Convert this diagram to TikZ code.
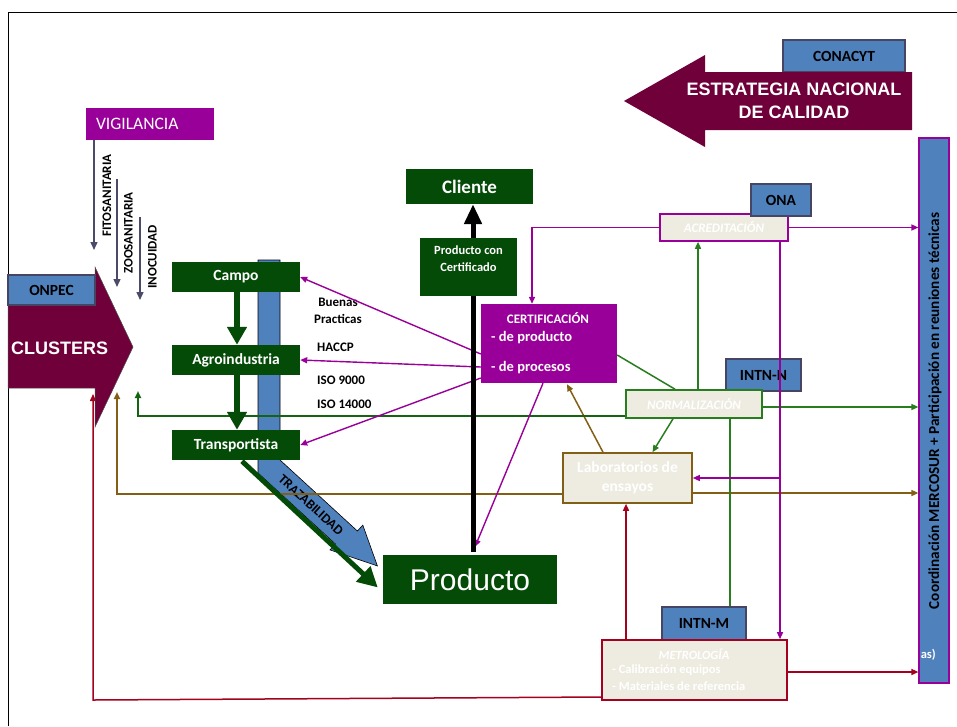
\documentclass[tikz,border=0pt]{standalone}
\usepackage{fontspec}
\setmainfont{Carlito}
\newfontfamily\arialf{Liberation Sans}
\usetikzlibrary{arrows.meta,calc}
\definecolor{dgreen}{RGB}{5,75,8}
\definecolor{lgreen}{RGB}{40,125,30}
\definecolor{hgreen}{RGB}{20,100,20}
\definecolor{purp}{RGB}{153,0,153}
\definecolor{maroonc}{RGB}{112,0,58}
\definecolor{sblue}{RGB}{79,129,189}
\definecolor{beige}{RGB}{238,236,225}
\definecolor{brownc}{RGB}{130,95,20}
\definecolor{dred}{RGB}{165,0,30}
\definecolor{slate}{RGB}{75,75,105}
\definecolor{bborder}{RGB}{70,70,100}
\newcommand\fsz[2]{\fontsize{#1}{#2}\selectfont}
\tikzset{
 gbox/.style={fill=dgreen, text=white, inner sep=0pt},
 bbox/.style={fill=sblue, draw=bborder, line width=1.3pt, inner sep=0pt, font=\bfseries\fsz{15.5}{18}},
 ebox/.style={fill=beige, line width=1.6pt, inner sep=0pt, text=white},
 tip/.style={-{Triangle[length=7pt,width=6pt]}},
 plink/.style={draw=purp, line width=1.4pt},
 glink/.style={draw=lgreen, line width=1.5pt},
 blink/.style={draw=brownc, line width=1.5pt},
 rlink/.style={draw=dred, line width=1.5pt},
 slink/.style={draw=slate, line width=1.4pt, -{Triangle[length=8pt,width=7pt]}},
 fat/.style={draw=dgreen, line width=5.5pt, -{Triangle[length=18pt,width=19pt]}},
 lbl/.style={font=\bfseries\fsz{13}{16.5}, inner sep=0pt},
 wtxt/.style={text=white, inner sep=0pt},
}
\begin{document}
\begin{tikzpicture}[x=1pt,y=-1pt]
\useasboundingbox (0,0) rectangle (957,726);
\fill[white] (0,0) rectangle (957,726);
% frame
\draw[line width=0.8pt] (8,726) -- (8,12) -- (957,12);

% CONACYT and strategy arrow
\node[bbox, minimum width=122, minimum height=32] (conacyt) at (844,56) {CONACYT};
\fill[maroonc] (912,72) -- (705,72) -- (705,55) -- (624,101) -- (705,147) -- (705,130) -- (912,130) -- cycle;
\node[wtxt, font=\arialf\bfseries\fsz{18}{23}, align=center] (estt) at (794,101) {ESTRATEGIA NACIONAL\\DE CALIDAD};

% Vigilancia
\node[fill=purp, text=white, minimum height=32, inner xsep=10pt, inner ysep=0pt, text width=108, align=left, font=\fsz{17.5}{20}] (vig) at (150,124) {VIGILANCIA};
\coordinate (f1) at (94,250);
\coordinate (z0) at (117,179);
\coordinate (z1) at (117,287);
\coordinate (i0) at (140,217);
\coordinate (i1) at (140,300);
\draw[slink] (vig.south -| f1) -- (f1);
\draw[slink] (z0) -- (z1);
\draw[slink] (i0) -- (i1);
\node[lbl, rotate=90] (fito) at (107,195.5) {FITOSANITARIA};
\node[lbl, rotate=90] (zoo) at (128.5,233) {ZOOSANITARIA};
\node[lbl, rotate=90] (inoc) at (152.5,257) {INOCUIDAD};

% blue bar + trazabilidad arrow
\fill[sblue, draw=black, line width=0.6pt] (258,260) -- (280,260) -- (280,460) -- (357.4,531) -- (362.8,525.1) -- (377.4,565.9) -- (330,549.9) -- (335.4,544) -- (258,473) -- cycle;
\node[font=\bfseries\fsz{13.5}{15}, inner sep=0pt, rotate=-42.5] (traz) at (311,505) {TRAZABILIDAD};

% right bar
\node[fill=sblue, draw=purp, line width=1.2pt, minimum width=30, minimum height=545, inner sep=0pt] (bar) at (934,410.5) {};
\node[font=\bfseries\fsz{15.2}{17}, inner sep=0pt, rotate=90] (bart) at (935,411) {Coordinación MERCOSUR + Participación en reuniones técnicas};
\node[wtxt, font=\bfseries\fsz{12.5}{14}, anchor=east] (asx) at (936,655) {as)};

% main boxes
\node[gbox, minimum width=128, minimum height=30, font=\bfseries\fsz{15.5}{18}] (campo) at (236,277) {Campo};
\node[gbox, minimum width=128, minimum height=30, font=\bfseries\fsz{15.5}{18}] (agro) at (236,360) {Agroindustria};
\node[gbox, minimum width=128, minimum height=30, font=\bfseries\fsz{15.5}{18}] (trans) at (236,445) {Transportista};
\node[gbox, minimum width=174, minimum height=49, font=\arialf\fsz{30}{34}] (prod) at (470,579.5) {Producto};
\node[gbox, minimum width=127, minimum height=35, font=\bfseries\fsz{19}{22}] (cliente) at (469.5,186.5) {Cliente};

\node[fill=purp, minimum width=136, minimum height=79, inner sep=0pt] (cert) at (549,343.5) {};
\node[wtxt, font=\bfseries\fsz{13}{15}] (certt) at (548,318.5) {CERTIFICACIÓN};
\node[wtxt, font=\bfseries\fsz{14.5}{17}, anchor=west] (cp1) at (491,338) {- de producto};
\node[wtxt, font=\bfseries\fsz{14.5}{17}, anchor=west] (cp2) at (491,368) {- de procesos};

\node[ebox, draw=purp, minimum width=128, minimum height=27, font=\bfseries\itshape\fsz{13}{15}] (acred) at (724,227.5) {ACREDITACIÓN};
\node[bbox, minimum width=60, minimum height=32] (ona) at (781,200) {ONA};
\node[bbox, minimum width=75, minimum height=32] (intnn) at (763.5,375) {INTN-N};
\node[ebox, draw=lgreen, minimum width=136, minimum height=28, font=\bfseries\itshape\fsz{13}{15}] (norm) at (694,404) {NORMALIZACIÓN};
\node[ebox, draw=brownc, minimum width=129, minimum height=50, font=\bfseries\fsz{15.5}{19}, align=center] (lab) at (627.5,478) {Laboratorios de\\ensayos};
\node[bbox, minimum width=84, minimum height=33] (intnm) at (704,623.5) {INTN-M};
\node[ebox, draw=dred, minimum width=185, minimum height=60] (metro) at (694.5,670) {};
\node[wtxt, font=\bfseries\itshape\fsz{12.5}{14}] (metrot) at (694,654) {METROLOGÍA};
\node[wtxt, font=\bfseries\fsz{12.5}{14}, anchor=west] (m1) at (612,670) {- Calibración equipos};
\node[wtxt, font=\bfseries\fsz{12.5}{14}, anchor=west] (m2) at (612,686) {- Materiales de referencia};

% labels
\node[lbl, align=center] (bp) at (338,311) {Buenas\\Practicas};
\node[lbl, anchor=west] (haccp) at (317,347) {HACCP};
\node[lbl, anchor=west] (iso9) at (317,380) {ISO 9000};
\node[lbl, anchor=west] (iso14) at (317,404) {ISO 14000};

% free end / helper coordinates
\coordinate (gend) at (138,391);
\coordinate (bend) at (117,392);
\coordinate (rc) at (93,700);
\coordinate (rend) at (93,394);
\coordinate (pv) at ($(acred.south)+(56,0)$);
\coordinate (r1) at ($(metro.north)+(-68.5,0)$);
\coordinate (r2) at ($(metro.east)+(0,2)$);
\coordinate (b3) at ($(lab.east)+(0,15)$);
\coordinate (g2) at ($(norm.north)+(4,0)$);
\coordinate (g3) at ($(norm.east)+(0,3)$);
\coordinate (g5) at ($(norm.south)+(36,0)$);

% red connectors (behind clusters)
\draw[rlink, tip] ($(metro.west)+(0,27)$) -- (rc) -- (rend);
\draw[rlink, tip] (r1) -- (r1 |- lab.south);
\draw[rlink, tip] (r2) -- (r2 -| bar.west);

% brown connectors
\draw[blink, line width=2.2pt, tip] ($(lab.west)+(0,16)$) -| (bend);
\draw[blink, tip] ($(lab.north)+(-24.5,0)$) -- ($(cert.south)+(18,1)$);
\draw[blink, tip] (b3) -- (b3 -| bar.west);

% green connectors
\draw[draw=hgreen, line width=2.6pt, tip] ($(norm.west)+(0,12)$) -| (gend);
\draw[glink] ($(cert.east)+(0,11.5)$) -- ($(norm.north)+(-19,0)$);
\draw[glink, tip] (g2) -- (g2 |- acred.south);
\draw[glink, tip] (g3) -- (g3 -| bar.west);
\draw[glink, tip] ($(norm.south)+(-21,0)$) -- ($(lab.north)+(25,0)$);
\draw[glink] (g5) -- (g5 |- intnm.north);

% purple connectors
\draw[plink, tip] ($(cert.west)+(0,10.5)$) -- (campo.east);
\draw[plink, tip] ($(cert.west)+(0,23.5)$) -- (agro.east);
\draw[plink, tip] ($(cert.west)+(0,34.5)$) -- (trans.east);
\draw[plink, tip] (acred.west) -| ($(cert.north)+(-17,0)$);
\draw[plink, tip] (acred.east) -- (acred.east -| bar.west);
\draw[plink, tip] (pv) -- (pv |- metro.north);
\draw[plink, tip] (pv |- lab.east) -- (lab.east);
\draw[plink, tip] ($(cert.south)+(-6,0)$) -- ($(prod.north)+(5,-8)$);

% clusters arrow + ONPEC
\fill[maroonc, draw=black!70, line width=0.5pt] (8,305) -- (95,305) -- (95,267) -- (133,347) -- (95,427) -- (95,388) -- (8,388) -- cycle;
\node[wtxt, font=\arialf\bfseries\fsz{18}{20}, anchor=west] (clt) at (11,348) {CLUSTERS};
\node[bbox, minimum width=87, minimum height=30] (onpec) at (51.5,290) {ONPEC};

% thick arrows
\draw[fat] ($(campo.south)+(1,0)$) -- ($(agro.north)+(1,0)$);
\draw[fat] ($(agro.south)+(1,0)$) -- ($(trans.north)+(1,0)$);
\draw[draw=dgreen, line width=5pt, -{Triangle[length=20pt,width=20pt]}] ($(trans.south)+(6,1)$) -- ($(prod.west)+(-5,8)$);
\draw[line width=5pt, -{Triangle[length=20pt,width=17pt]}] ($(prod.north)+(3,-3)$) -- ($(cliente.south)+(3.5,0)$);
\node[gbox, minimum width=97, minimum height=58] (pcc) at (468.5,267) {};
\node[wtxt, font=\bfseries\fsz{12.5}{17}, align=center] (pcct) at (468.5,259) {Producto con\\Certificado};
\end{tikzpicture}
\end{document}
